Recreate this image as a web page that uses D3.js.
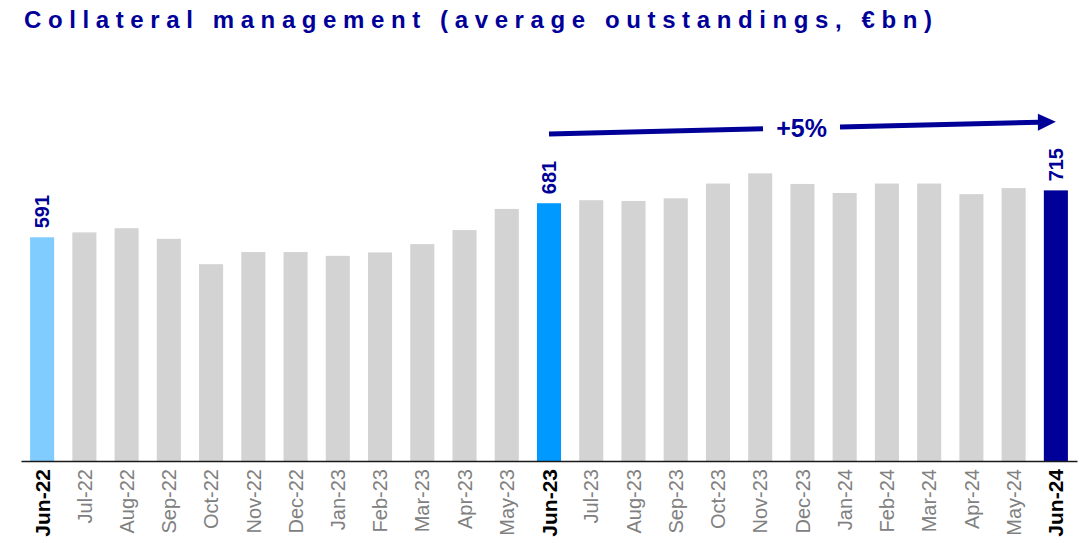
<!DOCTYPE html>
<html>
<head>
<meta charset="utf-8">
<script src="https://cdn.jsdelivr.net/npm/d3@7"></script>
<style>
  html, body { margin: 0; padding: 0; background: #fff; }
  #chart { width: 1092px; height: 543px; }
  text { font-family: Arial, 'Liberation Sans', sans-serif; }
</style>
</head>
<body>
<div id="chart"></div>
<script>
const title = 'Collateral management (average outstandings, €bn)';

const months = [
    'Jun-22', 'Jul-22', 'Aug-22', 'Sep-22', 'Oct-22', 'Nov-22', 'Dec-22',
    'Jan-23', 'Feb-23', 'Mar-23', 'Apr-23', 'May-23', 'Jun-23',
    'Jul-23', 'Aug-23', 'Sep-23', 'Oct-23', 'Nov-23', 'Dec-23',
    'Jan-24', 'Feb-24', 'Mar-24', 'Apr-24', 'May-24', 'Jun-24'
];

const outstandings = [
    591, 604, 615, 587, 520, 552, 552,
    542, 551, 573, 610, 666, 681,
    689, 687, 694, 733, 760, 732,
    708, 733, 733, 705, 721, 715
];

// bars that get a colour and a value label
const highlighted = ['Jun-22', 'Jun-23', 'Jun-24'];

// growth arrow from Jun-23 to Jun-24, levels in €bn on the bar scale
const growthLabel = '+5%';
const arrowFrom = { month: 'Jun-23', level: 864 };
const arrowTo = { month: 'Jun-24', level: 896 };

const colors = {
    'Jun-22': '#80ccff',
    'Jun-23': '#0099ff',
    'Jun-24': '#000099'
};

const Chart = {
    create() {
        const container = d3.select('#chart');
        container.selectAll('*').remove();

        const width = 1092;
        const height = 543;
        const baseline = 461;

        const svg = container.append('svg')
            .attr('width', width)
            .attr('height', height);

        svg.append('text')
            .attr('x', 24)
            .attr('y', 28)
            .attr('textLength', 908)
            .attr('lengthAdjust', 'spacing')
            .style('font-size', '24px')
            .style('font-weight', 'bold')
            .style('fill', '#000099')
            .text(title);

        const x = d3.scaleBand()
            .domain(months)
            .range([21, 1077])
            .paddingInner(0.43)
            .paddingOuter(0.215);

        const y = d3.scaleLinear()
            .domain([0, 800])
            .range([baseline, baseline - 800 * 0.3785]);

        const data = months.map((m, i) => ({ month: m, value: outstandings[i] }));

        Chart.createBars(svg, data, x, y);
        Chart.createAxis(svg, x, baseline);
        Chart.createLabels(svg, data, x, y);
        Chart.createArrow(svg, x, y);
    },

    createBars(svg, data, x, y) {
        svg.append('g')
            .selectAll('rect')
            .data(data)
            .join('rect')
            .attr('x', d => x(d.month))
            .attr('y', d => y(d.value))
            .attr('width', x.bandwidth())
            .attr('height', d => y(0) - y(d.value))
            .attr('fill', d => colors[d.month] || '#d3d3d3');
    },

    createAxis(svg, x, baseline) {
        const axis = svg.append('g')
            .attr('transform', `translate(0,${baseline})`)
            .call(d3.axisBottom(x).tickSize(0).tickSizeOuter(0));

        axis.select('.domain')
            .attr('stroke', '#1a1a1a')
            .attr('stroke-width', 1.5);

        axis.selectAll('.tick text')
            .attr('transform', 'translate(0,8) rotate(-90)')
            .attr('x', 0)
            .attr('y', 0)
            .attr('dy', '0.36em')
            .style('text-anchor', 'end')
            .style('font-family', "Arial, 'Liberation Sans', sans-serif")
            .style('font-size', d => highlighted.includes(d) ? '21px' : '20px')
            .style('font-weight', d => highlighted.includes(d) ? 'bold' : 'normal')
            .style('fill', d => highlighted.includes(d) ? '#000' : '#808080');
    },

    createLabels(svg, data, x, y) {
        svg.append('g')
            .selectAll('text')
            .data(data.filter(d => highlighted.includes(d.month)))
            .join('text')
            .attr('transform', d =>
                `translate(${x(d.month) + x.bandwidth() / 2},${y(d.value) - 9}) rotate(-90)`)
            .attr('dy', '0.36em')
            .style('text-anchor', 'start')
            .style('font-size', '20px')
            .style('font-weight', 'bold')
            .style('fill', '#000099')
            .text(d => d3.format('d')(d.value));
    },

    createArrow(svg, x, y) {
        const x0 = x(arrowFrom.month) + x.bandwidth() / 2;
        const y0 = y(arrowFrom.level);
        const x1 = x(arrowTo.month) + x.bandwidth() / 2;
        const y1 = y(arrowTo.level);
        const at = px => y0 + (y1 - y0) * (px - x0) / (x1 - x0);

        const gapStart = 763;
        const gapEnd = 840;
        const headLen = 18;
        const headHalf = 8.5;
        const color = '#000099';

        const g = svg.append('g');

        g.append('line')
            .attr('x1', x0).attr('y1', y0)
            .attr('x2', gapStart).attr('y2', at(gapStart))
            .attr('stroke', color).attr('stroke-width', 5);

        g.append('line')
            .attr('x1', gapEnd).attr('y1', at(gapEnd))
            .attr('x2', x1 - headLen + 1).attr('y2', at(x1 - headLen + 1))
            .attr('stroke', color).attr('stroke-width', 5);

        const bx = x1 - headLen;
        const by = at(bx);
        g.append('path')
            .attr('d', `M${x1},${y1}L${bx},${by - headHalf}L${bx},${by + headHalf}Z`)
            .attr('fill', color);

        const tx = (gapStart + gapEnd) / 2;
        g.append('text')
            .attr('x', tx)
            .attr('y', at(tx) + 9)
            .style('text-anchor', 'middle')
            .style('font-size', '25px')
            .style('font-weight', 'bold')
            .style('fill', color)
            .text(growthLabel);
    }
};

Chart.create();
</script>
</body>
</html>
